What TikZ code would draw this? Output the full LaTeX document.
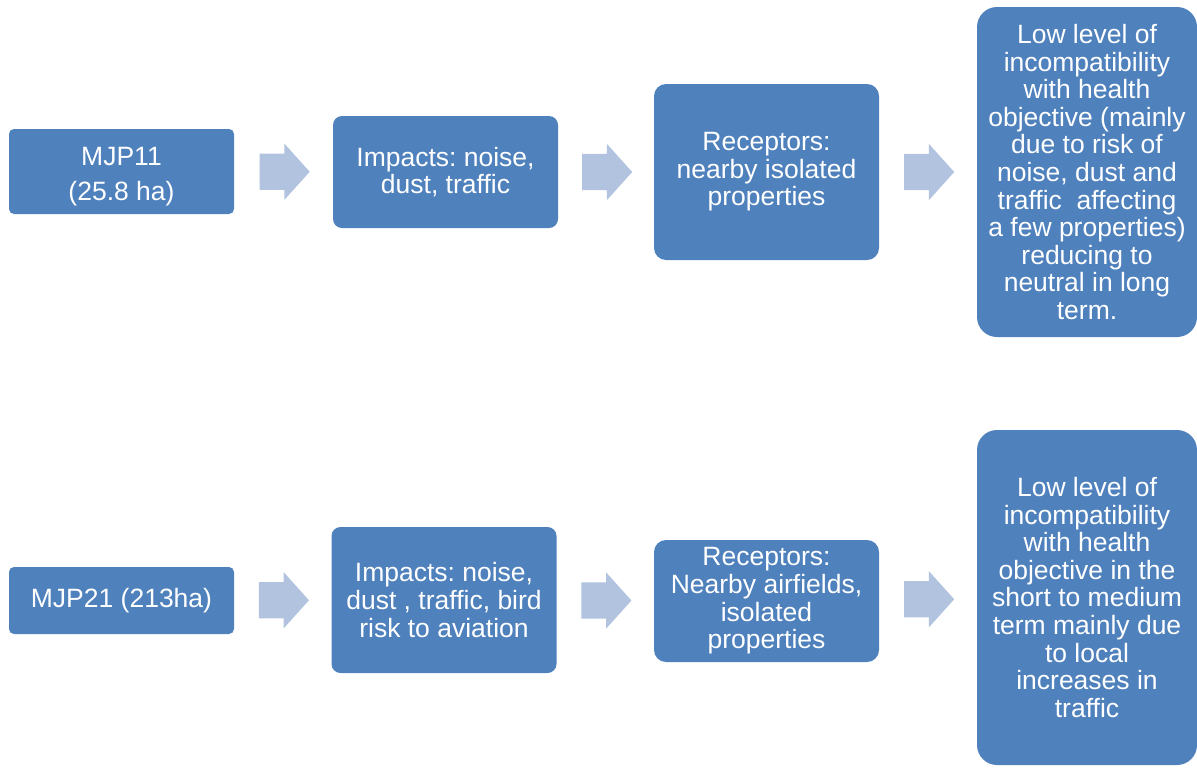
\documentclass[tikz,border=0pt]{standalone}
\usepackage{fontspec}
\setmainfont{Liberation Sans}
\usepackage{tikz}
\usetikzlibrary{positioning, shapes.arrows, calc}

\definecolor{boxblue}{HTML}{4F81BD}
\definecolor{arrowblue}{HTML}{B1C3DF}
\frenchspacing

\begin{document}
\begin{tikzpicture}[
    x=1pt, y=-1pt,
    box/.style={fill=boxblue, draw=none, text=white, align=center,
                inner sep=2pt, font=\fontsize{26.5}{27.6}\selectfont},
    site/.style={box, rounded corners=5pt, minimum width=225pt},
    impact/.style={box, rounded corners=9pt, minimum width=225pt},
    recep/.style={box, rounded corners=12pt, minimum width=225pt},
    outcome/.style={box, rounded corners=20pt, minimum width=220pt},
    blockarrow/.style={single arrow, fill=arrowblue, draw=none,
                inner xsep=0pt, inner ysep=18pt, minimum width=56pt,
                minimum height=50pt, single arrow head extend=10pt,
                single arrow tip angle=96, anchor=tail, xshift=-24pt},
]
\useasboundingbox (0,0) rectangle (1197,769);

% ── Row 1: MJP11 ─────────────────────────────────────────────────────────
\node[site, minimum height=85pt] (mjp11) at (121.5,171.5)
    {\rule{0pt}{28pt}MJP11\\[7pt](25.8 ha)};
\node[impact, minimum height=112pt] (imp1) at (445.5,172)
    {Impacts: noise,\\dust, traffic};
\node[recep, minimum height=176pt] (rec1) at (766.5,172)
    {Receptors:\\nearby isolated\\properties};
\node[outcome, minimum height=330pt] (out1) at (1087,172)
    {Low level of\\incompatibility\\with health\\objective (mainly\\due to risk of\\
     noise, dust and\\traffic\ \ affecting\\a few properties)\\reducing to\\
     neutral in long\\term.};

% ── Row 2: MJP21 ─────────────────────────────────────────────────────────
\node[site, minimum height=67pt] (mjp21) at (121.5,600.5)
    {MJP21 (213ha)};
\node[impact, minimum height=146pt] (imp2) at (444,600)
    {Impacts: noise,\\dust , traffic, bird\\risk to aviation};
\node[recep, minimum height=122pt] (rec2) at (766.5,601)
    {Receptors:\\Nearby airfields,\\isolated\\properties};
\node[outcome, minimum height=335pt] (out2) at (1087,597.5)
    {Low level of\\incompatibility\\with health\\objective in the\\
     short to medium\\term mainly due\\to local\\increases in\\traffic};

% ── Block arrows between stages ──────────────────────────────────────────
\foreach \a/\b in {mjp11/imp1, imp1/rec1, rec1/out1,
                   mjp21/imp2, imp2/rec2, rec2/out2} {
    \node[blockarrow] (ar-\a) at ($(\a.east)!0.5!(\b.west)$) {};
}

\end{tikzpicture}
\end{document}
